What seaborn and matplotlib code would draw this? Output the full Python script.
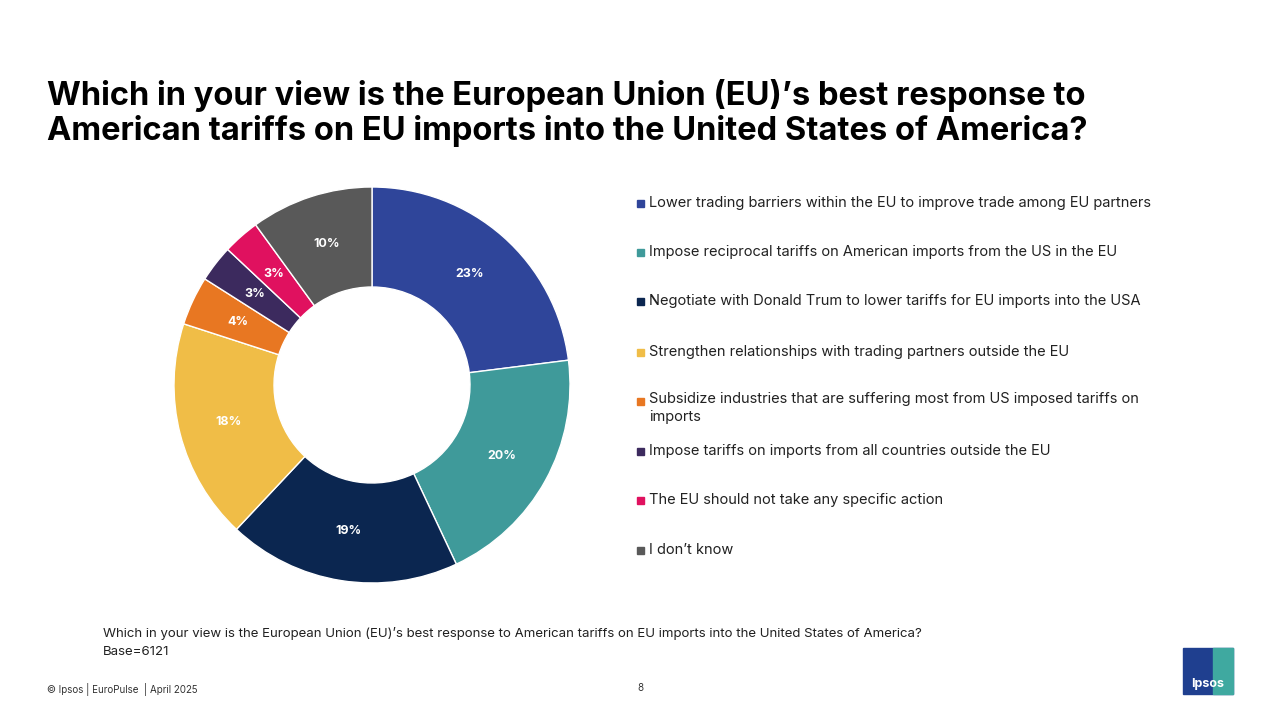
import matplotlib
matplotlib.use("Agg")
import matplotlib.pyplot as plt
import seaborn as sns
import numpy as np

categories = [
    "Lower trading barriers within the EU to improve trade among EU partners",
    "Impose reciprocal tariffs on American imports from the US in the EU",
    "Negotiate with Donald Trum to lower tariffs for EU imports into the USA",
    "Strengthen relationships with trading partners outside the EU",
    "Subsidize industries that are suffering most from US imposed tariffs on\nimports",
    "Impose tariffs on imports from all countries outside the EU",
    "The EU should not take any specific action",
    "I don\u2019t know",
]
values = [23, 20, 19, 18, 4, 3, 3, 10]
colors = ["#2F459A", "#3F9A9A", "#0B2650", "#F0BD47", "#E87722", "#3C2A5E", "#E0115F", "#595959"]

sns.set_style("white")
plt.rcParams["font.family"] = "Inter"
fig = plt.figure(figsize=(12.8, 7.2), dpi=100)

W, H = 1280, 720
cx, cy, R = 372, 385, 200
ax = fig.add_axes([(cx - R) / W, (H - cy - R) / H, 2 * R / W, 2 * R / H])
wedges, _ = ax.pie(values, colors=sns.color_palette(colors), startangle=90, counterclock=False,
                   radius=198 / 200, wedgeprops=dict(width=100 / 200, edgecolor="white", linewidth=1))
ax.set_xlim(-1, 1); ax.set_ylim(-1, 1); ax.set_aspect("equal")
for w, v in zip(wedges, values):
    ang = np.deg2rad((w.theta1 + w.theta2) / 2)
    r = 0.74
    ax.text(r * np.cos(ang), r * np.sin(ang), f"{v}%", ha="center", va="center",
            color="white", fontsize=9, fontweight="bold")

fig.text(47 / W, 1 - 95 / H, "Which in your view is the European Union (EU)\u2019s best response to",
         fontsize=23.5, fontweight="bold", va="center", color="black")
fig.text(47 / W, 1 - 131 / H, "American tariffs on EU imports into the United States of America?",
         fontsize=23.5, fontweight="bold", va="center", color="black")

ys = [203, 252, 301, 352, 401, 451, 500, 550]
for c, col, y in zip(categories, colors, ys):
    fig.patches.append(plt.Rectangle((637 / W, 1 - (y + 4) / H), 7 / W, 7 / H, color=col,
                                     transform=fig.transFigure, figure=fig))
    if "\n" in c:
        fig.text(649 / W, 1 - 392 / H, c, fontsize=10.5, va="top", color="#222222", linespacing=1.35)
    else:
        fig.text(649 / W, 1 - y / H, c, fontsize=10.5, va="center", color="#222222")

fig.text(103 / W, 1 - 633 / H, "Which in your view is the European Union (EU)\u2019s best response to American tariffs on EU imports into the United States of America?",
         fontsize=9.5, va="center", color="#222222")
fig.text(103 / W, 1 - 652 / H, "Base=6121", fontsize=9.5, va="center", color="#222222")
fig.text(47 / W, 1 - 689 / H, "\u00a9 Ipsos | EuroPulse  | April 2025", fontsize=7, va="center", color="#333333")
fig.text(640 / W, 1 - 688 / H, "8", fontsize=7, va="center", ha="center", color="#333333")

fig.patches.append(plt.Rectangle((1183 / W, 1 - 694 / H), 50 / W, 46 / H, color="#1F3F8F",
                                 transform=fig.transFigure, figure=fig))
fig.patches.append(plt.Rectangle((1213 / W, 1 - 694 / H), 20 / W, 46 / H, color="#3FA9A0",
                                 transform=fig.transFigure, figure=fig))
fig.text(1208 / W, 1 - 684 / H, "Ipsos", fontsize=9, fontweight="bold", color="white", ha="center", va="center")

fig.savefig("out.png", dpi=100)
